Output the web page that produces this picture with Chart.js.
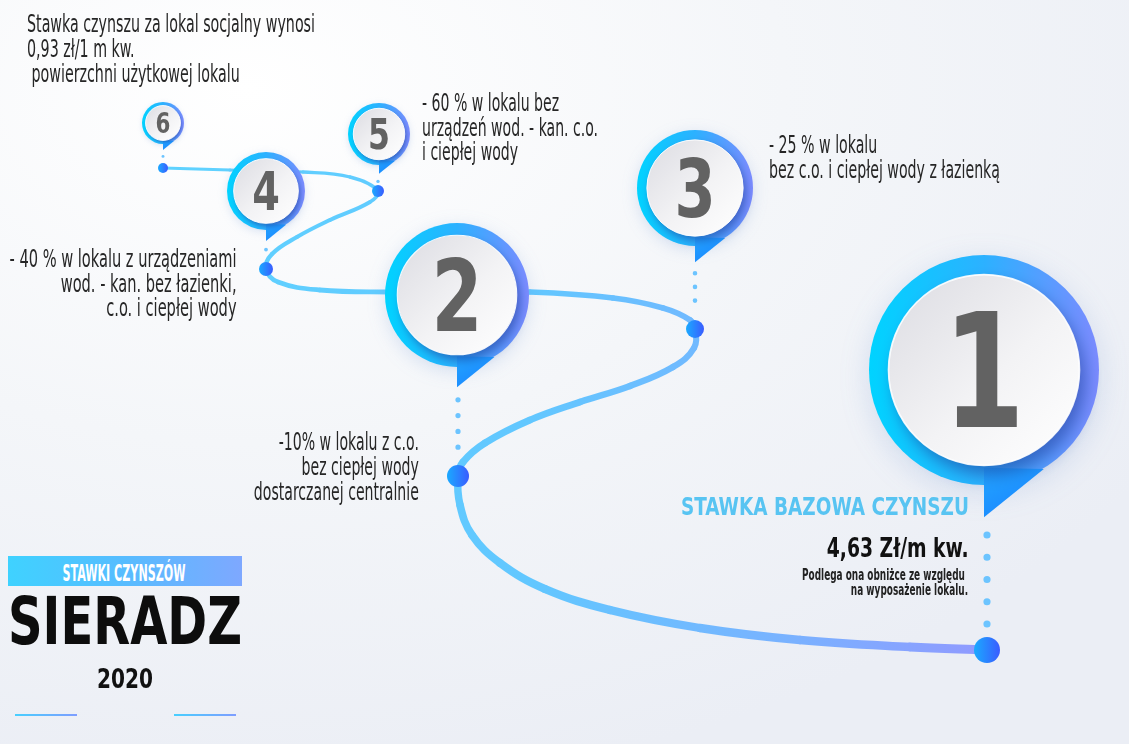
<!DOCTYPE html>
<html lang="pl">
<head>
<meta charset="utf-8">
<title>Stawki czynszów – Sieradz 2020</title>
<script src="https://cdn.jsdelivr.net/npm/chart.js@4.4.1/dist/chart.umd.min.js"></script>
<style>
  html, body { margin: 0; padding: 0; }
  body {
    width: 1129px; height: 744px; overflow: hidden; position: relative;
    background: radial-gradient(ellipse 95% 95% at 22% 12%, #ffffff 0%, #f4f6f9 50%, #ebeef5 100%);
    font-family: 'DejaVu Sans Condensed', 'Liberation Sans Narrow', 'Roboto', sans-serif;
    color: #222;
  }
  #chart { position: absolute; left: 0; top: 0; }
  .fit { position: absolute; white-space: nowrap; }
  .note { font-size: 24px; line-height: 25px; color: #262626; }
  .right { text-align: right; transform-origin: right top; }
  .left { transform-origin: left top; }
  .center { text-align: center; transform-origin: center top; }
  #baseTitle { font-size: 25px; line-height: 25px; font-weight: bold; color: #58c4f2; }
  #baseValue { font-size: 27px; line-height: 27px; font-weight: bold; color: #111; }
  #baseInfo { font-size: 15px; line-height: 15px; font-weight: bold; color: #222; }
  #bar { position: absolute; left: 8px; top: 556px; width: 234px; height: 30px;
    background: linear-gradient(90deg, #3fd2ff 0%, #57bcff 50%, #7ea8ff 100%); }
  #barText { color: #fff; font-weight: bold; font-size: 23px; line-height: 23px; }
  #city { font-size: 66px; line-height: 66px; font-weight: bold; color: #0d0d0d; }
  #year { font-size: 27px; line-height: 27px; font-weight: bold; color: #111; }
  .rule { position: absolute; top: 714px; height: 2px; width: 62px; background: linear-gradient(90deg, #48cfff, #7e9dff); }
</style>
</head>
<body>
<canvas id="chart" width="1129" height="744"></canvas>

<div class="fit note left" data-w="288" style="left:27px; top:12px;">Stawka czynszu za lokal socjalny wynosi<br>0,93 zł/1 m kw.<br>&nbsp;powierzchni użytkowej lokalu</div>
<div class="fit note left" data-w="176" style="left:422px; top:91px; line-height:24.5px;">- 60 % w lokalu bez<br>urządzeń wod. - kan. c.o.<br>i ciepłej wody</div>
<div class="fit note left" data-w="231" style="left:769px; top:133px;">- 25 % w lokalu<br>bez c.o. i ciepłej wody z łazienką</div>
<div class="fit note right" data-w="227" style="right:892px; top:247px; line-height:24.5px;">- 40 % w lokalu z urządzeniami<br>wod. - kan. bez łazienki,<br>c.o. i ciepłej wody</div>
<div class="fit note right" data-w="165" style="right:710px; top:430px;">-10% w lokalu z c.o.<br>bez ciepłej wody<br>dostarczanej centralnie</div>

<div id="baseTitle" class="fit right" data-w="288" style="right:160px; top:494px;">STAWKA BAZOWA CZYNSZU</div>
<div id="baseValue" class="fit right" data-w="142" style="right:160px; top:534px;">4,63 Zł/m kw.</div>
<div id="baseInfo" class="fit right" data-w="166" style="right:161px; top:568px; text-align:right;">Podlega ona obniżce ze względu&nbsp;<br>na wyposażenie lokalu.</div>

<div id="bar"></div>
<div id="barText" class="fit center" data-w="123" style="left:124px; top:562px;">STAWKI CZYNSZÓW</div>
<div id="city" class="fit center" data-w="234" style="left:125px; top:589px;">SIERADZ</div>
<div id="year" class="fit center" data-w="56" style="left:125px; top:665px;">2020</div>
<div class="rule" style="left:15px;"></div>
<div class="rule" style="left:174px;"></div>

<script>
// ścieżka (układ 0..1129 x 0..744)
const pathX = [163, 230, 303, 350, 378, 370, 330, 297, 272, 266, 278, 320, 390, 460, 530, 613, 663, 690, 695,
  694, 673, 630, 580, 530, 485, 463, 458, 460, 472, 500, 545, 610, 700, 800, 910, 987];
const pathY = [168, 170, 172, 177, 191, 202, 220, 237, 254, 269, 282, 290, 292, 292, 292, 298, 308, 320, 329,
  348, 367, 386, 402, 420, 443, 462, 476, 505, 535, 563, 589, 610, 628, 640, 647, 650];

// znaczniki 1..6
const markerLabels = ['1', '2', '3', '4', '5', '6'];
const markerX = [984, 457, 695, 266, 379, 163];
const markerY = [370, 295, 188, 191, 134, 123];
const markerR = [115, 72, 58, 39, 31, 21];

// kropki na ścieżce pod znacznikami
const dotX = [987, 458, 695, 266, 378, 163];
const dotY = [650, 476, 329, 269, 191, 168];
const dotR = [13, 11, 9, 7, 6, 5];

// dopasowanie szerokości tekstów (czcionka wąska jak w oryginale)
document.querySelectorAll('.fit').forEach(el => {
  const s = el.dataset.w / el.getBoundingClientRect().width;
  el.style.transform = el.classList.contains('center')
    ? `translateX(-50%) scaleX(${s})`
    : `scaleX(${s})`;
});

const FONT = '"DejaVu Sans Condensed", "Liberation Sans Narrow", sans-serif';
const canvas = document.getElementById('chart');
const g2d = canvas.getContext('2d');

const pathGrad = g2d.createLinearGradient(150, 0, 1000, 0);
pathGrad.addColorStop(0, '#5fd3ff');
pathGrad.addColorStop(0.45, '#62c7ff');
pathGrad.addColorStop(0.75, '#79b2ff');
pathGrad.addColorStop(1, '#9298ff');

// przerywane łączniki: od ogonka znacznika do kropki
const connectors = markerLabels.map((_, i) => {
  const R = markerR[i];
  const step = 5 + R * 0.15;
  const tip = markerY[i] + R * 1.28;
  return {
    type: 'line',
    order: 1,
    data: [{ x: dotX[i], y: tip + step * 0.8 }, { x: dotX[i], y: dotY[i] - dotR[i] - step * 0.5 }],
    borderColor: '#6cc4ff',
    borderWidth: 2 + R * 0.045,
    borderDash: [0, step],
    borderCapStyle: 'round',
    pointRadius: 0,
    showLine: true
  };
});

const bubblesPlugin = {
  id: 'bubbles',
  afterDatasetsDraw(chart) {
    const c = chart.ctx;
    const sx = chart.scales.x, sy = chart.scales.y;
    markerLabels.forEach((label, i) => {
      const x = sx.getPixelForValue(markerX[i]);
      const y = sy.getPixelForValue(markerY[i]);
      const R = sx.getPixelForValue(markerR[i]) - sx.getPixelForValue(0);

      const ring = c.createLinearGradient(x - R, y, x + R, y);
      ring.addColorStop(0, '#00d3ff');
      ring.addColorStop(0.5, '#2cb1ff');
      ring.addColorStop(1, '#7c8bff');

      c.save();
      c.shadowColor = 'rgba(70,120,200,0.18)';
      c.shadowBlur = R * 0.25;
      c.shadowOffsetY = R * 0.06;
      c.fillStyle = ring;
      c.beginPath();
      c.arc(x, y, R, 0, Math.PI * 2);
      c.fill();
      c.restore();

      // ogonek
      const tail = c.createLinearGradient(x, y + R * 0.8, x + R * 0.3, y + R * 1.28);
      tail.addColorStop(0, '#22a8ff');
      tail.addColorStop(1, '#1b86ff');
      c.fillStyle = tail;
      c.beginPath();
      c.moveTo(x, y + R * 0.85);
      c.lineTo(x, y + R * 1.28);
      c.lineTo(x + R * 0.52, y + R * 0.86);
      c.closePath();
      c.fill();

      // biały dysk z cieniem
      const r = R * 0.83;
      const disc = c.createLinearGradient(x - r, y - r, x + r, y + r);
      disc.addColorStop(0, '#dcdce2');
      disc.addColorStop(0.55, '#f3f3f5');
      disc.addColorStop(1, '#ffffff');
      c.save();
      c.shadowColor = 'rgba(25,45,140,0.5)';
      c.shadowBlur = R * 0.14;
      c.shadowOffsetX = R * 0.05;
      c.shadowOffsetY = R * 0.08;
      c.fillStyle = disc;
      c.beginPath();
      c.arc(x, y, r, 0, Math.PI * 2);
      c.fill();
      c.restore();
      c.strokeStyle = 'rgba(255,255,255,0.9)';
      c.lineWidth = Math.max(1, R * 0.015);
      c.beginPath();
      c.arc(x, y, r, 0, Math.PI * 2);
      c.stroke();

      // cyfra (zwężona)
      const fs = R * 1.38;
      c.save();
      c.translate(x, y + fs * 0.36);
      c.scale(0.82, 1);
      c.fillStyle = '#626262';
      c.font = `bold ${fs}px ${FONT}`;
      c.textAlign = 'center';
      c.textBaseline = 'alphabetic';
      c.fillText(label, 0, 0);
      c.restore();
    });
  }
};

new Chart(canvas, {
  type: 'scatter',
  data: {
    datasets: [
      {
        order: 0,
        data: dotX.map((x, i) => ({ x, y: dotY[i] })),
        pointRadius: dotR,
        pointHoverRadius: dotR,
        pointBorderWidth: 0,
        pointBackgroundColor: ctx => {
          const ch = ctx.chart;
          if (!ch.chartArea) return '#1f8bff';
          const x = ch.scales.x.getPixelForValue(dotX[ctx.dataIndex]);
          const r = dotR[ctx.dataIndex];
          const gr = ch.ctx.createLinearGradient(x - r, 0, x + r, 0);
          gr.addColorStop(0, '#1aaaff');
          gr.addColorStop(1, '#3a5cff');
          return gr;
        }
      },
      ...connectors,
      {
        type: 'line',
        order: 2,
        data: pathX.map((x, i) => ({ x, y: pathY[i] })),
        showLine: true,
        tension: 0.4,
        pointRadius: 0,
        borderColor: pathGrad,
        borderCapStyle: 'round',
        borderJoinStyle: 'round',
        segment: {
          borderWidth: ctx => 3 + 6 * ctx.p0DataIndex / (pathX.length - 1)
        }
      }
    ]
  },
  options: {
    responsive: false,
    animation: false,
    devicePixelRatio: 1,
    events: [],
    layout: { padding: 0, autoPadding: false },
    clip: false,
    plugins: { legend: { display: false }, tooltip: { enabled: false } },
    scales: {
      x: { type: 'linear', min: 0, max: 1129, display: false },
      y: { type: 'linear', min: 0, max: 744, reverse: true, display: false }
    }
  },
  plugins: [bubblesPlugin]
});
</script>
</body>
</html>
